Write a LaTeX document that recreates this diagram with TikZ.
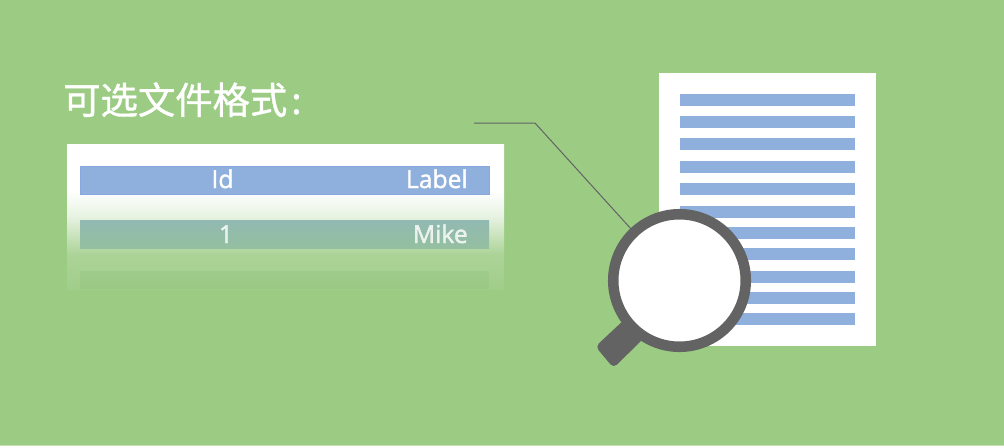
\documentclass[tikz,border=0pt]{standalone}
\usepackage{fontspec}
\setmainfont{Open Sans}
\newfontfamily\cellfont[FakeBold=1.4]{Open Sans}
\newfontfamily\cjkfont[FakeBold=1.1]{Noto Sans CJK SC}
\usetikzlibrary{positioning}
\definecolor{bggreen}{HTML}{9CCB84}
\definecolor{barblue}{HTML}{8FB0DC}
\definecolor{ringgray}{HTML}{636363}
\definecolor{rowhigh}{HTML}{92B9B2}
\definecolor{rowlow}{HTML}{95BFA0}
\pgfdeclareverticalshading{panelfade}{100bp}{color(0bp)=(bggreen!95!white); color(25bp)=(bggreen!95!white); color(37bp)=(bggreen!84!white); color(50bp)=(bggreen!24!white); color(59bp)=(white); color(100bp)=(white)}
\pgfdeclareverticalshading{rowfade}{100bp}{color(0bp)=(rowlow); color(25bp)=(rowlow); color(75bp)=(rowhigh); color(100bp)=(rowhigh)}
\tikzset{
  celltext/.style={inner sep=0pt,font=\cellfont\fontsize{18.5}{20}\selectfont,text=white},
  fadetext/.style={celltext,text opacity=.8},
  docbar/.style={fill=barblue},
}
\begin{document}
\begin{tikzpicture}[x=.75pt,y=-.75pt]
\useasboundingbox (0,0) rectangle (1004,447);
\fill[bggreen] (0,0) rectangle (1004,445);
\fill[bggreen!60!white] (0,445) rectangle (1004,446);
% table
\shade[shading=panelfade] (67,144) rectangle (504,289);
\fill[barblue,draw=barblue!95!blue,line width=.5pt] (80,166) rectangle (489,194);
\shade[shading=rowfade] (80,220) rectangle (489,248);
\fill[black!60!green,opacity=.04] (80,271) rectangle (489,289);
\node[celltext,anchor=base] (idhead) at (222.5,188) {Id};
\node[celltext,anchor=base east] (labelhead) at (468,188) {Label};
\node[fadetext,anchor=base] (idval) at (226,243) {1};
\node[fadetext,anchor=base east] (labelval) at (468,243) {Mike};
\node[inner sep=0pt,anchor=base west,text=white,font=\cjkfont\fontsize{28}{30}\selectfont] (title) at (63,114) {可选文件格式\hspace{3pt}:};
% page
\fill[white] (659,73) rectangle (876,346);
\foreach \y in {94,116,138,161,183,206,227,248,271,292,313}
  \fill[docbar] (680,\y) rectangle (855,\y+12);
% callout
\coordinate (calloutstart) at (474,123);
\coordinate (calloutbend) at (535,123);
\coordinate (calloutend) at (632,230);
\draw[ringgray,line width=.75pt] (calloutstart) -- (calloutbend) -- (calloutend);
% magnifier
\fill[ringgray,rounded corners=3.5pt] (625,319) -- (595.5,346.5) -- (613.5,368) -- (644,338) -- cycle;
\node[circle,draw=ringgray,fill=white,line width=7.9pt,minimum size=99.4pt,inner sep=0pt] (lens) at (679.5,280.5) {};
\end{tikzpicture}
\end{document}
